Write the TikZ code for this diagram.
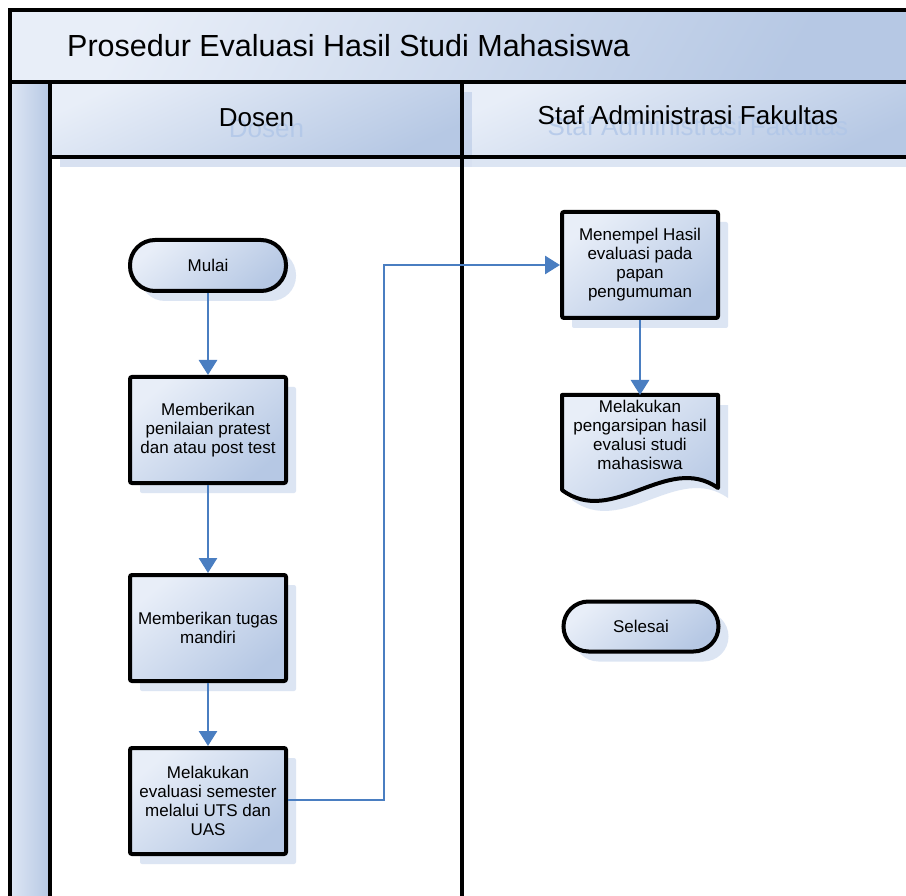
\documentclass[tikz,border=0pt]{standalone}
\usepackage{fontspec}
\setmainfont{Liberation Sans}
\usetikzlibrary{arrows.meta,shadows}
\definecolor{gLight}{RGB}{232,238,248}
\definecolor{gDark}{RGB}{182,200,228}
\definecolor{shadowcol}{RGB}{220,229,243}
\definecolor{hdrshadow}{RGB}{170,190,224}
\definecolor{flowblue}{RGB}{74,126,193}
\definecolor{txtshadow}{RGB}{176,198,232}
\tikzset{
  frameline/.style={line width=4.5pt},
  procbox/.style={draw=black, line width=4pt, rounded corners=2pt,
    top color=gLight, bottom color=gDark, shading angle=40,
    minimum width=156pt, minimum height=106pt, inner sep=0pt,
    align=center, font=\fontsize{17pt}{19pt}\selectfont,
    drop shadow={shadow xshift=10pt, shadow yshift=-10pt, fill=shadowcol, opacity=1}},
  termbox/.style={procbox, rounded corners=25pt, minimum height=51pt},
  doctext/.style={align=center, font=\fontsize{17pt}{19pt}\selectfont, inner sep=0pt},
  flow/.style={draw=flowblue, line width=2.8pt, -{Triangle[width=18pt,length=15pt]}},
  hdrtext/.style={font=\fontsize{26pt}{30pt}\selectfont, inner sep=0pt, anchor=base},
  hdrshadowtext/.style={hdrtext, text=txtshadow, text opacity=0.8},
}
\begin{document}
\begin{tikzpicture}[x=1pt,y=-1pt]
\useasboundingbox (0,0) rectangle (906,896);
\clip (0,0) rectangle (906,896);
\fill[white] (0,0) rectangle (906,896);
% title bar and left strip
\shade[top color=gLight, bottom color=gDark, shading angle=60] (10,10) rectangle (906,82);
\shade[left color=gLight!80!gDark, right color=gDark] (10,82) rectangle (50,896);
% lane headers with shadows
\fill[shadowcol] (472,92) rectangle (906,167);
\shade[top color=gLight, bottom color=gDark, shading angle=25] (462,82) rectangle (906,157);
\fill[hdrshadow, opacity=0.45] (60,92) rectangle (472,167);
\shade[top color=gLight, bottom color=gDark, shading angle=25] (50,82) rectangle (462,157);
% header texts
\node[hdrshadowtext] (dosenS) at (266.5,138) {Dosen};
\node[hdrshadowtext] (stafS) at (698,136) {Staf Administrasi Fakultas};
\node[hdrtext] (dosen) at (256.5,127) {Dosen};
\node[hdrtext] (staf) at (688,125) {Staf Administrasi Fakultas};
\node[font=\fontsize{30.5pt}{36pt}\selectfont, inner sep=0pt, anchor=base west] (title) at (67,57) {Prosedur Evaluasi Hasil Studi Mahasiswa};
% frame lines
\draw[frameline] (10,900) -- (10,10) -- (910,10);
\draw[frameline] (10,82) -- (910,82);
\draw[frameline] (50,82) -- (50,900);
\draw[frameline] (462,82) -- (462,900);
\draw[frameline] (50,157) -- (910,157);
% nodes
\node[termbox] (mulai) at (208,265.5) {Mulai};
\node[procbox] (b1) at (208,430) {Memberikan\\penilaian pratest\\dan atau post test};
\node[procbox] (b2) at (208,628) {Memberikan tugas\\mandiri};
\node[procbox] (b3) at (208,801) {Melakukan\\evaluasi semester\\melalui UTS dan\\UAS};
\node[procbox] (men) at (640,265) {Menempel Hasil\\evaluasi pada\\papan\\pengumuman};
\node[termbox, minimum width=155pt, minimum height=50pt] (selesai) at (641,626.5) {Selesai};
% document shape
\begin{scope}[shift={(10,10)}]
\fill[shadowcol] (562,395) -- (718,395) -- (718,488)
  .. controls (667,452) and (613,528) .. (562,490) -- cycle;
\end{scope}
\shade[top color=gLight, bottom color=gDark, shading angle=40]
  (562,395) -- (718,395) -- (718,488)
  .. controls (667,452) and (613,528) .. (562,490) -- cycle;
\draw[line width=4pt, line join=round]
  (562,395) -- (718,395) -- (718,488)
  .. controls (667,452) and (613,528) .. (562,490) -- cycle;
\node[doctext] (doc) at (640,434.5) {Melakukan\\pengarsipan hasil\\evalusi studi\\mahasiswa};
\coordinate (doctop) at (640,395);
\coordinate (bend) at (384,800);
% connectors
\draw[flow] (mulai) -- (b1);
\draw[flow] (b1) -- (b2);
\draw[flow] (b2) -- (b3);
\draw[flow] (b3.east |- bend) -- (bend) |- (men.west);
\draw[flow] (men) -- (doctop);
\end{tikzpicture}
\end{document}
